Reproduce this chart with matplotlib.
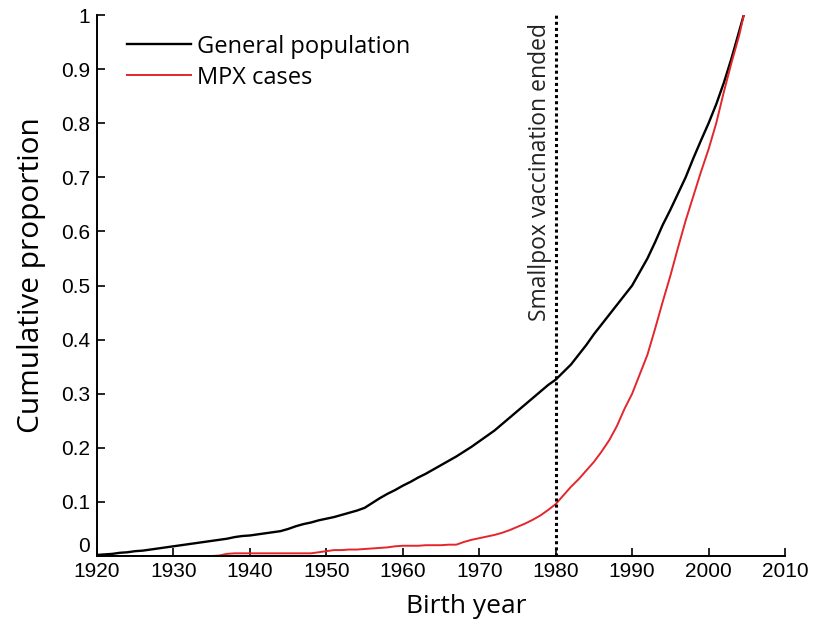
import numpy as np
import matplotlib
matplotlib.use("Agg")
import matplotlib.pyplot as plt

# cumulative birth-year distributions
years = [1920, 1921, 1922, 1923, 1924, 1925, 1926, 1927, 1928, 1929,
         1930, 1931, 1932, 1933, 1934, 1935, 1936, 1937, 1938, 1939,
         1940, 1941, 1942, 1943, 1944, 1945, 1946, 1947, 1948, 1949,
         1950, 1951, 1952, 1953, 1954, 1955, 1956, 1957, 1958, 1959,
         1960, 1961, 1962, 1963, 1964, 1965, 1966, 1967, 1968, 1969,
         1970, 1971, 1972, 1973, 1974, 1975, 1976, 1977, 1978, 1979,
         1980, 1981, 1982, 1983, 1984, 1985, 1986, 1987, 1988, 1989,
         1990, 1991, 1992, 1993, 1994, 1995, 1996, 1997, 1998, 1999,
         2000, 2001, 2002, 2003, 2004, 2004.6]
general = [0.002, 0.003, 0.004, 0.006, 0.007, 0.009, 0.010, 0.012, 0.014, 0.016,
           0.018, 0.020, 0.022, 0.024, 0.026, 0.028, 0.030, 0.032, 0.035, 0.037,
           0.038, 0.040, 0.042, 0.044, 0.046, 0.050, 0.055, 0.059, 0.062, 0.066,
           0.069, 0.072, 0.076, 0.080, 0.084, 0.089, 0.098, 0.107, 0.115, 0.122,
           0.130, 0.137, 0.145, 0.152, 0.160, 0.168, 0.176, 0.184, 0.193, 0.202,
           0.212, 0.222, 0.232, 0.244, 0.256, 0.268, 0.280, 0.292, 0.304, 0.316,
           0.326, 0.340, 0.354, 0.372, 0.390, 0.410, 0.428, 0.446, 0.464, 0.482,
           0.500, 0.525, 0.550, 0.580, 0.612, 0.640, 0.670, 0.700, 0.735, 0.768,
           0.800, 0.835, 0.875, 0.920, 0.970, 1.0]
mpx = [0.000, 0.000, 0.000, 0.000, 0.000, 0.000, 0.000, 0.000, 0.000, 0.000,
       0.000, 0.000, 0.000, 0.000, 0.000, 0.000, 0.001, 0.004, 0.005, 0.005,
       0.005, 0.005, 0.005, 0.005, 0.005, 0.005, 0.005, 0.005, 0.005, 0.007,
       0.009, 0.011, 0.011, 0.012, 0.012, 0.013, 0.014, 0.015, 0.016, 0.018,
       0.019, 0.019, 0.019, 0.020, 0.020, 0.020, 0.021, 0.021, 0.026, 0.030,
       0.033, 0.036, 0.039, 0.043, 0.048, 0.054, 0.060, 0.067, 0.075, 0.085,
       0.096, 0.112, 0.128, 0.142, 0.158, 0.174, 0.193, 0.214, 0.240, 0.272,
       0.300, 0.336, 0.372, 0.420, 0.470, 0.518, 0.570, 0.620, 0.665, 0.710,
       0.752, 0.800, 0.858, 0.912, 0.962, 1.0]

vacc_end = 1980
xticks = list(range(1920, 2011, 10))
yticks = [0, 0.1, 0.2, 0.3, 0.4, 0.5, 0.6, 0.7, 0.8, 0.9, 1]
ytick_labels = ["0", "0.1", "0.2", "0.3", "0.4", "0.5", "0.6", "0.7", "0.8", "0.9", "1"]

label_font = ["Open Sans", "DejaVu Sans"]
tick_font = ["Liberation Sans", "DejaVu Sans"]

fig = plt.figure(figsize=(8.13, 6.28), dpi=100)
ax = fig.add_axes([0.1193, 0.1146, 0.8463, 0.8615])

ax.plot(years, general, color="black", lw=1.7, label="General population")
ax.plot(years, mpx, color="#e3262c", lw=1.4, label="MPX cases")
ax.axvline(vacc_end, color="black", ls=(0, (1, 1)), lw=2.2)
ax.text(1978.0, 0.985, "Smallpox vaccination ended", rotation=90,
        ha="center", va="top", fontsize=16.5, family=label_font, color="#222222")

ax.set_xlim(1920, 2010)
ax.set_ylim(0, 1)
ax.set_xticks(xticks)
ax.set_yticks(yticks)
ax.set_yticklabels(ytick_labels)
for lab in ax.get_xticklabels() + ax.get_yticklabels():
    lab.set_family(tick_font)
    lab.set_fontsize(15)
ax.tick_params(direction="in", length=6, width=1.2)
ax.tick_params(axis="x", pad=4)
ax.tick_params(axis="y", pad=5)
# lift the origin label a touch so it clears the 1920 label
ax.get_yticklabels()[0].set_verticalalignment("bottom")

for side in ("top", "right"):
    ax.spines[side].set_visible(False)
for side in ("left", "bottom"):
    ax.spines[side].set_linewidth(1.4)

ax.set_xlabel("Birth year", fontsize=19, family=label_font)
ax.set_ylabel("Cumulative proportion", fontsize=21.5, family=label_font)
ax.xaxis.set_label_coords(0.536, -0.07)
ax.yaxis.set_label_coords(-0.074, 0.52)

leg = ax.legend(loc="upper left", bbox_to_anchor=(0.013, 1.003), frameon=False,
                prop={"family": label_font, "size": 17}, handlelength=2.7,
                handletextpad=0.25, labelspacing=0.3)

fig.savefig("out.png", dpi=100)
